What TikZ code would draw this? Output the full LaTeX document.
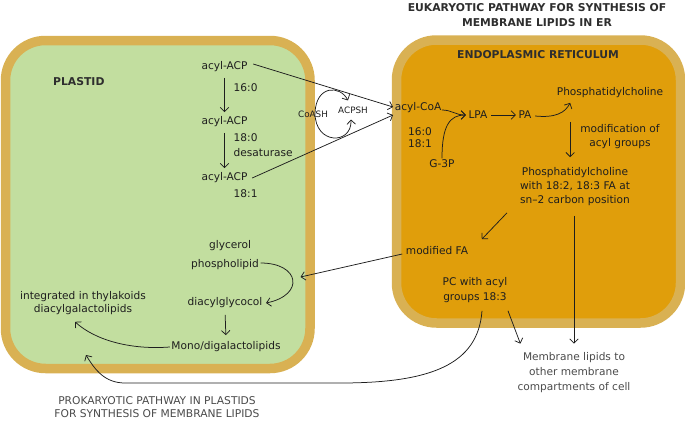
\documentclass[tikz,border=0pt]{standalone}
\usepackage{fontspec}
\setmainfont{DejaVu Sans}
\usetikzlibrary{arrows.meta,calc}
\definecolor{bordc}{HTML}{D9B153}
\definecolor{greenc}{HTML}{C2DE9F}
\definecolor{erc}{HTML}{E09E0B}
\definecolor{txt}{HTML}{1E1E1E}
\definecolor{ttlc}{HTML}{2E2E2E}
\definecolor{grayt}{HTML}{4A4A4A}
\tikzset{
  lbl/.style={font=\fontsize{10.6}{12.5}\selectfont, text=txt, inner sep=1.5pt, align=center},
  smalllbl/.style={font=\fontsize{8.8}{10}\selectfont, text=txt, inner sep=1pt},
  ttl/.style={font=\bfseries\fontsize{10.8}{15}\selectfont, text=ttlc, align=center, inner sep=1pt},
  arr/.style={draw=txt, line width=0.75pt, -{Straight Barb[length=4.2pt,width=8.5pt]}},
  arrboth/.style={draw=txt, line width=0.75pt, {Straight Barb[length=4.2pt,width=8.5pt]}-{Straight Barb[length=4.2pt,width=8.5pt]}},
  cellbox/.style={draw=bordc, line width=9.5pt, rounded corners=40pt},
}
\begin{document}
\begin{tikzpicture}[x=1pt,y=-1pt]
\useasboundingbox (0,0) rectangle (685,423);
% compartments
\draw[cellbox, fill=greenc] (5.5,40.5) rectangle (310,368.5);
\draw[cellbox, fill=erc] (396.5,40) rectangle (680.5,323);

% titles
\node[ttl] (toptitle) at (537,15.5) {EUKARYOTIC PATHWAY FOR SYNTHESIS OF\\MEMBRANE LIPIDS IN ER};
\node[ttl] (ertitle) at (538,55) {ENDOPLASMIC RETICULUM};
\node[ttl, anchor=west] (ptitle) at (52,82) {PLASTID};
\node[lbl, text=grayt, font=\fontsize{10.7}{13}\selectfont] (prok) at (157,407) {PROKARYOTIC PATHWAY IN PLASTIDS\\FOR SYNTHESIS OF MEMBRANE LIPIDS};

% plastid nodes
\node[lbl] (acp1) at (224.5,67) {acyl-ACP};
\node[lbl, anchor=west] (l160) at (232,88) {16:0};
\node[lbl] (acp2) at (224.5,122) {acyl-ACP};
\node[lbl, anchor=west] (l180) at (232,138) {18:0};
\node[lbl, anchor=west] (desat) at (232,153) {desaturase};
\node[lbl] (acp3) at (224.5,178) {acyl-ACP};
\node[lbl, anchor=west] (l181) at (232,194) {18:1};

\node[lbl] (glyc) at (230,246) {glycerol};
\node[lbl] (phos) at (225,265) {phospholipid};
\node[lbl] (diac) at (225,303) {diacylglycocol};
\node[lbl] (mono) at (226,347) {Mono/digalactolipids};
\node[lbl, font=\fontsize{10.6}{13}\selectfont] (integ) at (83,303.5) {integrated in thylakoids\\diacylgalactolipids};

% between
\node[smalllbl] (coash) at (313,114) {CoASH};
\node[smalllbl] (acpsh) at (353,110) {ACPSH};

% ER nodes
\node[lbl] (acoa) at (418,108) {acyl-CoA};
\node[lbl, font=\fontsize{10.6}{12}\selectfont] (l1618) at (420,138) {16:0\\18:1};
\node[lbl] (g3p) at (442,164) {G-3P};
\node[lbl] (lpa) at (478,115) {LPA};
\node[lbl] (pa) at (525,115) {PA};
\node[lbl] (pc1) at (610,93) {Phosphatidylcholine};
\node[lbl, font=\fontsize{10.6}{14}\selectfont] (modif) at (620,137) {modification of\\acyl groups};
\node[lbl, font=\fontsize{10.6}{14}\selectfont] (pc2) at (575,187) {Phosphatidylcholine\\with 18:2, 18:3 FA at\\sn–2 carbon position};
\node[lbl] (modfa) at (437,251) {modified FA};
\node[lbl, font=\fontsize{10.6}{15}\selectfont] (pc18) at (475,290.5) {PC with acyl\\groups 18:3};
\node[lbl, text=grayt, font=\fontsize{10.6}{15}\selectfont] (memb) at (574,372.5) {Membrane lipids to\\other membrane\\compartments of cell};

% plastid connectors
\draw[arr, shorten <=4pt, shorten >=3pt] (acp1.south) -- (acp2.north);
\draw[arr, shorten <=4pt, shorten >=3pt] (acp2.south) -- (acp3.north);
\draw[arr] ($(acp1.east)+(4,-3)$) -- ($(acoa.west)+(0,-1)$);
\draw[arr] ($(acp3.east)+(3,0)$) -- ($(acoa.west)+(0,7)$);
\draw[arrboth] ($(acpsh.north)+(-5,-5)$) .. controls (340,85) and (316,85) .. (315,113)
  .. controls (315,145) and (352,145) .. ($(acpsh.south)+(-2,5)$);

% ER connectors
\draw[arr] ($(acoa.east)+(-1,2)$) .. controls (452,110) and (455,115) .. ($(lpa.west)+(-1,0)$);
\draw[arr] (g3p.north) .. controls (442,125) and (450,115) .. ($(lpa.west)+(-1,0)$);
\draw[arr, shorten <=2pt, shorten >=1pt] (lpa.east) -- (pa.west);
\draw[arr] ($(pa.east)+(2,1)$) .. controls (555,118) and (565,113) .. ($(pc1.south west)+(15,3)$);
\coordinate (pcx) at ($(pc1.south west)+(15,0)$);
\draw[arr, shorten <=22pt, shorten >=9pt] (pcx) -- (pcx |- pc2.north);
\draw[arr] ($(pc2.south)+(-68,5)$) -- ($(modfa.north east)+(12,-6)$);
\draw[arr, shorten <=8pt, shorten >=7pt] ($(pc2.south)+(-1,0)$) -- ($(memb.north)+(0,0)$);
\draw[arr] ($(modfa.west)+(-2,3)$) -- ($(phos.east)+(40,12)$);
\draw[arr] ($(phos.east)+(0,-2)$) .. controls (300,263) and (305,295) .. ($(diac.east)+(2,0)$);
\draw[arr, shorten <=5pt, shorten >=5pt] (diac.south) -- (mono.north);
\draw[arr] (mono.west) .. controls (130,350) and (95,340) .. ($(integ.south)+(-8,5)$);
\draw[arr] ($(pc18.south)+(33,6)$) -- ($(memb.north west)+(4.5,-7)$);
\coordinate (bendA) at (340,383);
\coordinate (bendB) at (125,383);
\coordinate (plin) at (86,355);
\draw[arr] ($(pc18.south)+(7,6)$) .. controls (478,365) and (430,383) .. (bendA) -- (bendB)
  .. controls (105,383) and (95,370) .. (plin);
\end{tikzpicture}
\end{document}
